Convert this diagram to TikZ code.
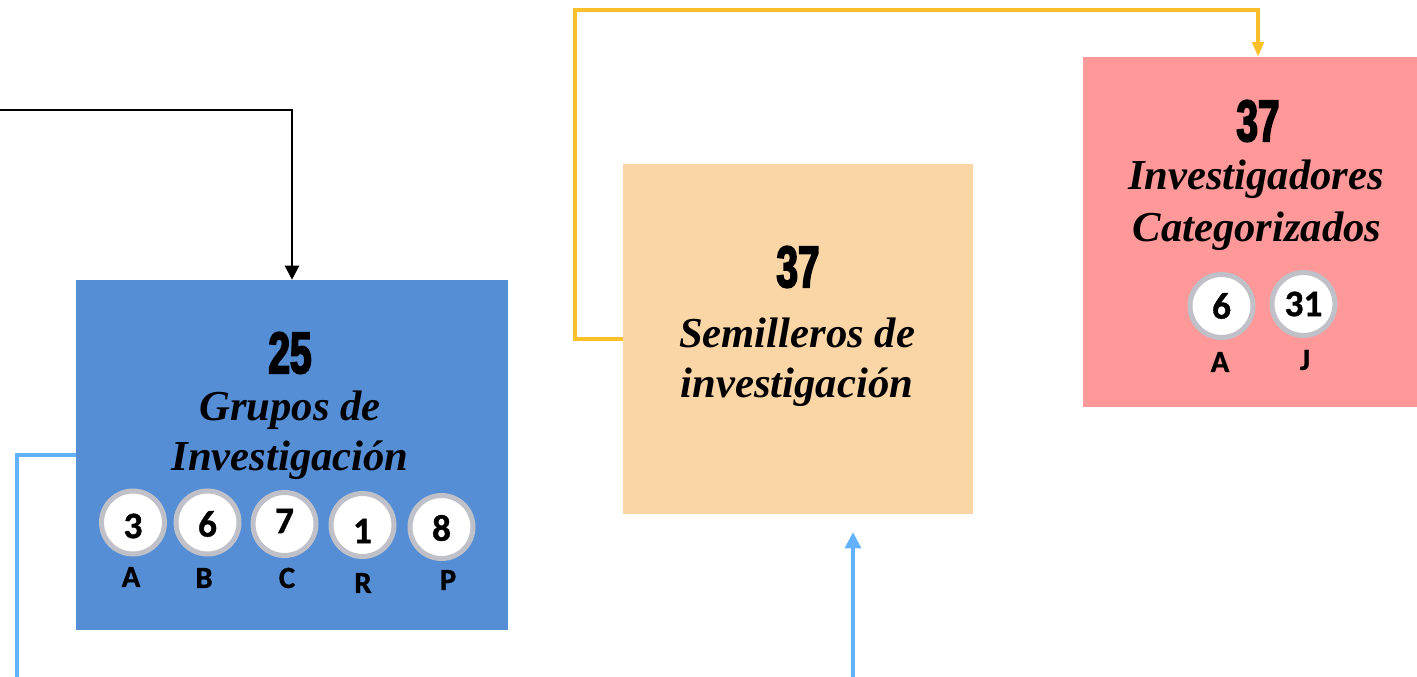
\documentclass[tikz,border=0pt]{standalone}
\usepackage{fontspec}
\setmainfont{Liberation Serif}
\newfontfamily\numfont[UprightFont=* Bold,FakeStretch=0.66,FakeBold=3]{Liberation Sans}
\newfontfamily\cfont[FakeBold=1]{Carlito}
\usetikzlibrary{arrows.meta}
\definecolor{bluebox}{HTML}{558ED5}
\definecolor{orangebox}{HTML}{FAD6A7}
\definecolor{pinkbox}{HTML}{FF9999}
\definecolor{yel}{HTML}{FBBF2A}
\definecolor{lblue}{HTML}{62B2FF}
\definecolor{ringgray}{HTML}{C0C0C8}
\begin{document}
\begin{tikzpicture}[x=0.75pt,y=-0.75pt,
  box/.style={rectangle,draw=none,inner sep=0pt},
  bignum/.style={inner sep=0pt,font=\numfont\fontsize{44pt}{44pt}\selectfont},
  label/.style={inner sep=0pt,anchor=base,font=\fontsize{32pt}{37.5pt}\selectfont\bfseries\itshape},
  ring/.style={circle,fill=white,draw=ringgray,line width=3.75pt,minimum size=47.25pt,inner sep=0pt},
  rnum/.style={inner sep=0pt,font=\cfont\bfseries\fontsize{28pt}{28pt}\selectfont},
  let/.style={inner sep=0pt,font=\cfont\bfseries\fontsize{23pt}{23pt}\selectfont},
  blk/.style={draw=black,line width=1.6pt,-{Triangle[width=10.5pt,length=10.5pt]}},
  yline/.style={draw=yel,line width=2.4pt,-{Triangle[width=8.5pt,length=11pt]}},
  bline/.style={draw=lblue,line width=2.4pt}
]
\useasboundingbox (0,0) rectangle (1417,677);

% boxes
\node[box,fill=bluebox,minimum width=324pt,minimum height=262.5pt] (grupos) at (292,455) {};
\node[box,fill=orangebox,minimum width=262.5pt,minimum height=262.5pt] (sem) at (798,339) {};
\node[box,fill=pinkbox,minimum width=250.5pt,minimum height=262.5pt] (inv) at (1250,232) {};

% blue box content
\node[bignum] (n25) at (290,353) {25};
\node[label] (g1) at (290,420) {Grupos de};
\node[label] (g2) at (290,470) {Investigación};
\node[ring] (c1) at (133,522.5) {};
\node[ring] (c2) at (207.5,522.5) {};
\node[ring] (c3) at (284.5,524) {};
\node[ring] (c4) at (362.5,525) {};
\node[ring] (c5) at (441.5,527) {};
\node[rnum] (t1) at (133,526) {3};
\node[rnum] (t2) at (207.5,524) {6};
\node[rnum] (t3) at (284.5,521) {7};
\node[rnum] (t4) at (362.5,531) {1};
\node[rnum] (t5) at (441.5,528) {8};
\node[let] (l1) at (131,577) {A};
\node[let] (l2) at (204,578) {B};
\node[let] (l3) at (287,578) {C};
\node[let] (l4) at (363,583) {R};
\node[let] (l5) at (448,580) {P};

% orange box content
\node[bignum] (n37a) at (798,267) {37};
\node[label] (s1) at (797,348) {Semilleros de};
\node[label] (s2) at (797,397) {investigación};

% pink box content
\node[bignum] (n37b) at (1258,121) {37};
\node[label] (i1) at (1256,190) {Investigadores};
\node[label] (i2) at (1257,242) {Categorizados};
\node[ring] (c6) at (1221.5,306) {};
\node[ring] (c7) at (1303.5,304) {};
\node[rnum] (t6) at (1221.5,306) {6};
\node[rnum] (t7) at (1303.5,304) {31};
\node[let] (l6) at (1220,362) {A};
\node[let] (l7) at (1305,360) {J};

% connectors
\coordinate (bstart) at (0,110);
\draw[blk] (bstart) -| (grupos.north);
\coordinate (ytop) at (575,10);
\draw[yline] (sem.west) -| (ytop) -| ([xshift=6pt]inv.north);
\coordinate (lend) at (17,677);
\draw[bline] (grupos.west) -| (lend);
\coordinate (ubot) at (853,677);
\draw[bline,-{Triangle[width=12pt,length=12pt]}] (ubot) -- ([xshift=41.25pt,yshift=-13.5pt]sem.south);
\end{tikzpicture}
\end{document}
